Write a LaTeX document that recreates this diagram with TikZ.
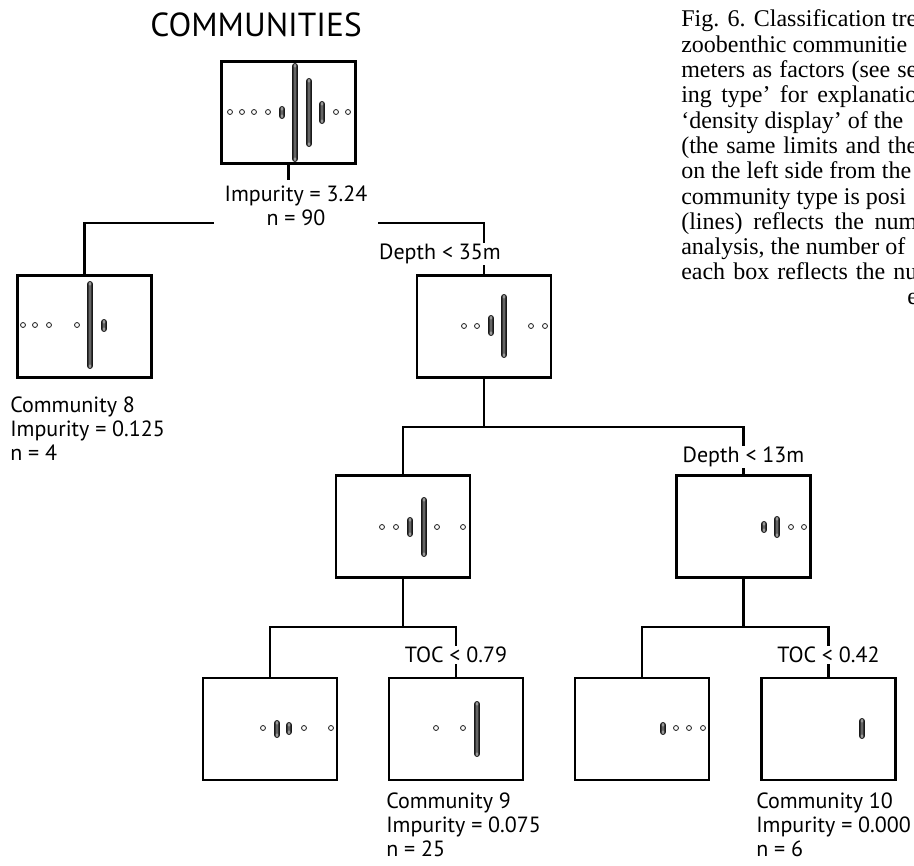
\documentclass[tikz,border=0pt]{standalone}
\usepackage{fontspec}
\setmainfont{PT Sans}
\newfontfamily\capfont{Liberation Serif}
\usetikzlibrary{positioning}
\newcommand{\obs}[2]{\draw[obs] (#1,#2) circle (1.85pt);}
\newcommand{\obsbar}[3]{\foreach \yy in {#2,...,#3}{\draw[obsin] (#1,\yy) circle (1.6pt);}
  \draw[obs,rounded corners=1.8pt] ([xshift=-1.85pt,yshift=1.85pt]#1,#2) rectangle ([xshift=1.85pt,yshift=-1.85pt]#1,#3);}
\newcommand{\capl}[1]{\makebox[177pt][s]{#1}}

\begin{document}
\begin{tikzpicture}[x=0.75pt,y=-0.75pt]
  \tikzstyle{plotbox}=[draw=black,line width=1.7pt,minimum width=100.5pt,minimum height=76.5pt,inner sep=0pt]
  \tikzstyle{conn}=[draw=black,line width=1.7pt]
  \tikzstyle{obs}=[draw=black!90,line width=0.6pt]
  \tikzstyle{obsin}=[draw=black!80,line width=0.35pt]
  \tikzstyle{rule}=[fill=white,inner xsep=4pt,inner ysep=1pt,font=\fontsize{16.5}{18}\selectfont]
  \tikzstyle{leaf}=[anchor=north west,align=left,inner sep=0pt,font=\fontsize{16.5}{18}\selectfont]
  \tikzstyle{capline}=[anchor=base west,inner sep=0pt,font=\capfont\fontsize{18}{19}\selectfont]

  \useasboundingbox (0,0) rectangle (914,866);

  \node[font=\fontsize{25}{27}\selectfont] (title) at (256,25) {COMMUNITIES};

  \node[plotbox] (root) at (288.5,112.5) {};
  \node[plotbox] (c8)   at (84.5,326.5) {};
  \node[plotbox] (d35)  at (484,326.5) {};
  \node[plotbox] (midL) at (403,526.5) {};
  \node[plotbox] (midR) at (743.5,526.5) {};
  \node[plotbox] (b1)   at (270,729) {};
  \node[plotbox] (c9)   at (456,729) {};
  \node[plotbox] (b3)   at (642,729) {};
  \node[plotbox] (c10)  at (828.5,729) {};

  \coordinate (s0) at (288.5,223);
  \coordinate (s1) at (484,427);
  \coordinate (s2) at (403,627);
  \coordinate (s3) at (743.5,627);

  \draw[conn] (root.south) -- (s0);
  \draw[conn] (c8.north) |- (s0) -| (d35.north);
  \draw[conn] (d35.south) -- (s1);
  \draw[conn] (midL.north) |- (s1) -| (midR.north);
  \draw[conn] (midL.south) -- (s2);
  \draw[conn] (b1.north) |- (s2) -| (c9.north);
  \draw[conn] (midR.south) -- (s3);
  \draw[conn] (b3.north) |- (s3) -| (c10.north);

  \node[rule,align=center,anchor=north,inner xsep=8pt,inner ysep=4pt] (rootlbl) at (296,180) {Impurity = 3.24\\n = 90};
  \node[rule] (d35lbl)  at (440,254) {Depth < 35m};
  \node[rule] (d13lbl)  at (743.5,457) {Depth < 13m};
  \node[rule] (toc79)   at (456,655) {TOC < 0.79};
  \node[rule] (toc42)   at (828.5,655) {TOC < 0.42};

  \node[leaf] (c8txt)  at (10,397) {Community 8\\Impurity = 0.125\\n = 4};
  \node[leaf] (c9txt)  at (386,793) {Community 9\\Impurity = 0.075\\n = 25};
  \node[leaf] (c10txt) at (756,793) {Community 10\\Impurity = 0.000\\n = 6};

  % density displays
  \obs{230}{112} \obs{242}{112} \obs{254}{112} \obs{268}{112}
  \obsbar{282}{109}{116} \obsbar{295}{66}{159} \obsbar{309}{81}{144} \obsbar{322}{104}{121}
  \obs{336}{112} \obs{348}{112}

  \obs{23}{325} \obs{35}{325} \obs{49}{325} \obs{77}{325}
  \obsbar{90}{284}{366} \obsbar{104}{322}{329}

  \obs{464}{326} \obs{477}{326}
  \obsbar{491}{318}{333} \obsbar{504}{297}{355}
  \obs{531}{326} \obs{545}{326}

  \obs{382}{527} \obs{396}{527}
  \obsbar{410}{520}{534} \obsbar{424}{500}{554}
  \obs{437}{527} \obs{463}{527}

  \obsbar{764}{524}{530} \obsbar{777}{519}{535}
  \obs{791}{527} \obs{804}{527}

  \obs{263}{728} \obsbar{277}{723}{735} \obsbar{289}{725}{732}
  \obs{304}{728} \obs{331}{728}

  \obs{436}{728} \obs{463}{728} \obsbar{477}{704}{754}

  \obsbar{663}{725}{732} \obs{676}{728} \obs{689}{728} \obs{703}{728}

  \obsbar{862}{721}{736}

  % caption column, cut at the page edge
  \begin{scope}
    \clip (0,0) rectangle (914,866);
    \foreach \capt [count=\i] in {{\capl{Fig. 6. Classification tre}},{zoobenthic communitie},{\capl{meters as factors (see se}},{\capl{ing type’ for explanatio}},{‘density display’ of the},{\capl{(the same limits and the}},{on the left side from the},{community type is posi},{\capl{(lines) reflects the num}},{analysis, the number of},{\capl{each box reflects the nu}}}
      \node[capline] (cap\i) at (681,{27+25.3*(\i-1)}) {\capt};
    \node[capline] (cap12) at (907,305) {e};
  \end{scope}
\end{tikzpicture}
\end{document}
